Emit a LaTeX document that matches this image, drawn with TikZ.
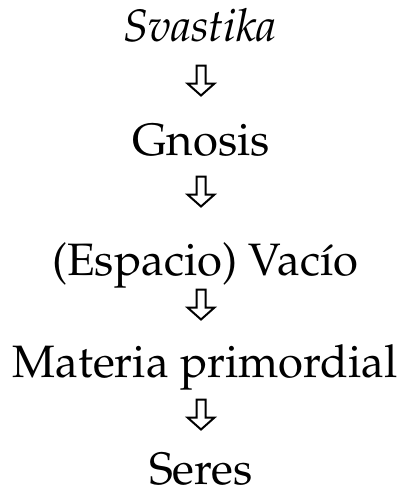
\documentclass[tikz,border=0pt]{standalone}
\usepackage[T1]{fontenc}
\usepackage{mathpazo}
\usepackage{tikz}
\usetikzlibrary{positioning}

\tikzset{
    stage/.style={anchor=base, inner sep=0pt, font=\fontsize{22.7}{27}\selectfont},
    hollow/.style={line width=1pt, line join=miter}
}

\begin{document}
\begin{tikzpicture}[x=0.5pt, y=-0.5pt]
    \useasboundingbox (0,0) rectangle (406,494);

    % etapas
    \node[stage] (svastika) at (200,41) {\itshape Svastika};
    \node[stage] (gnosis)   at (201,155) {Gnosis};
    \node[stage] (vacio)    at (205,275) {(Espacio) Vac\'{\i}o};
    \node[stage] (materia)  at (205,377) {Materia primordial};
    \node[stage] (seres)    at (201,484) {Seres};

    % flechas huecas
    \foreach \i/\y in {1/81, 2/192, 3/305, 4/415} {
        \coordinate (arr\i) at (201,\y);
        \draw[hollow] (arr\i) ++(-4.5,-15.5) -- ++(9,0) -- ++(0,18) -- ++(9,0)
            -- ++(-13.5,12) -- ++(-13.5,-12) -- ++(9,0) -- cycle;
    }
\end{tikzpicture}
\end{document}
